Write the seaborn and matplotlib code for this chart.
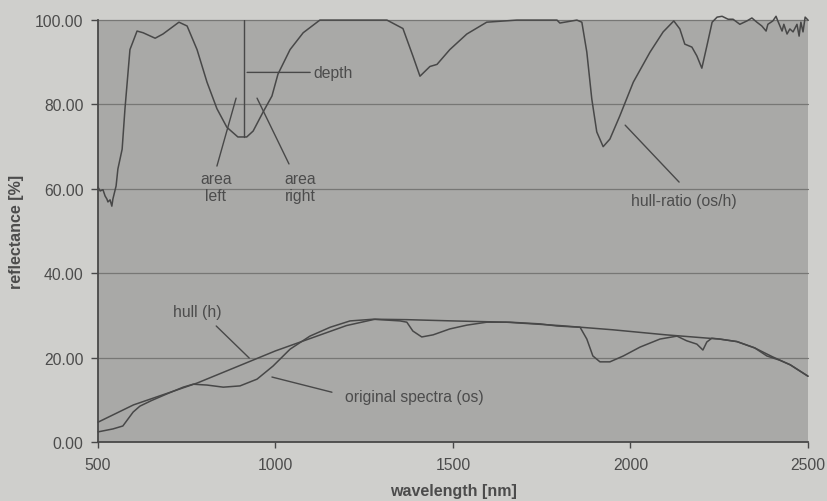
import pandas as pd
import matplotlib.pyplot as plt
import seaborn as sns

# wavelength [nm] / reflectance [%]
hull_wl = [500, 600, 780, 1000, 1200, 1280, 1370, 1500, 1650, 1800, 1950, 2100,
           2250, 2300, 2350, 2400, 2450, 2500]
hull_val = [4.7, 8.8, 14.0, 21.6, 27.6, 29.1, 29.0, 28.7, 28.4, 27.6, 26.6, 25.4,
            24.4, 23.8, 22.3, 20.2, 18.3, 15.6]

os_wl = [500, 542, 570, 599, 618, 650, 694, 740, 768, 807, 853, 900, 948, 993,
         1041, 1097, 1154, 1210, 1275, 1351, 1370, 1387, 1412, 1444, 1491, 1539,
         1595, 1660, 1745, 1793, 1858, 1877, 1894, 1914, 1942, 1980, 2027, 2083,
         2131, 2158, 2187, 2204, 2215, 2229, 2252, 2300, 2350, 2384, 2420, 2450, 2500]
os_val = [2.4, 3.1, 3.8, 7.1, 8.5, 9.8, 11.4, 13.0, 13.7, 13.5, 13.0, 13.3, 14.9, 18.0,
          22.0, 25.1, 27.2, 28.7, 29.1, 28.7, 28.4, 26.3, 24.9, 25.4, 26.8, 27.7,
          28.4, 28.4, 28.0, 27.5, 27.2, 24.4, 20.4, 19.0, 19.0, 20.4, 22.5, 24.4,
          25.1, 24.0, 23.2, 21.8, 23.7, 24.6, 24.4, 23.8, 22.3, 20.4, 19.4, 18.3, 15.6]

ratio_wl = [500, 506, 514, 520, 525, 528, 534, 539, 542, 551, 556, 568, 576, 590,
            610, 627, 661, 683, 728, 751, 779, 807, 835, 863, 894, 919, 937, 965,
            990, 1007, 1041, 1078, 1125, 1314, 1359, 1387, 1407, 1435, 1455, 1491,
            1539, 1595, 1680, 1793, 1801, 1849, 1863, 1877, 1891, 1905, 1923, 1942,
            1970, 2008, 2055, 2092, 2122, 2139, 2153, 2173, 2187, 2201, 2215, 2230,
            2244, 2258, 2275, 2289, 2308, 2328, 2342, 2356, 2370, 2382, 2387, 2401,
            2410, 2415, 2427, 2432, 2441, 2449, 2458, 2469, 2475, 2480, 2486, 2492, 2500]
ratio_val = [60.4, 59.5, 59.8, 58.3, 57.6, 56.9, 57.4, 55.9, 57.6, 60.7, 64.7, 69.4,
             79.0, 93.0, 97.4, 97.0, 95.7, 96.7, 99.5, 98.6, 93.0, 85.3, 79.0, 74.6,
             72.3, 72.3, 73.7, 78.2, 82.0, 87.2, 93.0, 97.0, 100.0, 100.0, 98.0, 91.5,
             86.7, 89.0, 89.5, 93.0, 96.7, 99.5, 100.0, 100.0, 99.3, 100.0, 99.5, 92.4,
             81.3, 73.5, 70.0, 71.8, 77.3, 85.3, 92.4, 97.2, 99.8, 97.9, 94.3, 93.6,
             91.5, 88.6, 93.8, 99.5, 100.7, 100.9, 100.2, 100.2, 99.0, 99.8, 100.5,
             99.5, 98.6, 97.4, 99.0, 99.8, 100.9, 99.8, 97.4, 99.0, 96.7, 97.9, 97.2,
             99.0, 96.2, 99.5, 97.2, 100.7, 100.0]

depth_wl = 912
depth_min = 72.3

line_c = "#484848"
text_c = "#4c4c4c"

sns.set_style("white", {"axes.facecolor": "#a9a9a7", "figure.facecolor": "#cfcfcc"})
plt.rcParams["font.family"] = ["Liberation Sans", "DejaVu Sans"]

fig = plt.figure(figsize=(8.27, 5.02), dpi=100)
ax = fig.add_axes([0.1185, 0.1175, 0.8585, 0.8405])

for yv in [20, 40, 60, 80, 100]:
    ax.axhline(yv, color="#777775", lw=0.9, zorder=1)

sns.lineplot(x=hull_wl, y=hull_val, ax=ax, color=line_c, lw=1.1, zorder=3)
sns.lineplot(x=os_wl, y=os_val, ax=ax, color=line_c, lw=1.1, zorder=3)
sns.lineplot(x=ratio_wl, y=ratio_val, ax=ax, color=line_c, lw=1.1, zorder=3)
for l in ax.lines:
    l.set_clip_on(False)

ax.plot([depth_wl, depth_wl], [depth_min, 100], color=line_c, lw=1.0)

arrow = dict(arrowstyle="-", color=line_c, lw=1.0, shrinkA=0, shrinkB=0)
fs = 11.3
ax.annotate("depth", xy=(920, 87.6), xytext=(1107, 87.6), color=text_c, fontsize=fs,
            va="center", ha="left", arrowprops=arrow)
ax.plot([835, 889], [65.4, 81.5], color=line_c, lw=1.0)
ax.text(832, 60.4, "area\nleft", color=text_c, fontsize=fs, ha="center", va="center",
        linespacing=1.15)
ax.plot([1038, 948], [65.9, 81.5], color=line_c, lw=1.0)
ax.text(1070, 60.4, "area\nright", color=text_c, fontsize=fs, ha="center", va="center",
        linespacing=1.15)
ax.plot([1985, 2137], [75.1, 61.6], color=line_c, lw=1.0)
ax.text(2150, 57.3, "hull-ratio (os/h)", color=text_c, fontsize=fs, ha="center", va="center")
ax.plot([833, 926], [27.5, 19.9], color=line_c, lw=1.0)
ax.text(780, 31.0, "hull (h)", color=text_c, fontsize=fs, ha="center", va="center")
ax.plot([990, 1159], [15.4, 11.8], color=line_c, lw=1.0)
ax.text(1195, 10.9, "original spectra (os)", color=text_c, fontsize=fs, ha="left", va="center")

ax.set_xlim(500, 2500)
ax.set_ylim(0, 100)
ax.set_xticks([500, 1000, 1500, 2000, 2500])
ax.set_yticks([0, 20, 40, 60, 80, 100])
ax.set_yticklabels([f"{v:.2f}" for v in [0, 20, 40, 60, 80, 100]])
ax.tick_params(axis="both", direction="out", length=5, width=1, color=line_c,
               labelcolor=text_c, labelsize=11.3, left=True, bottom=True)
ax.tick_params(axis="x", pad=6.5, length=4)
ax.tick_params(axis="y", pad=5.5)

for s in ["top", "right"]:
    ax.spines[s].set_visible(False)
for s in ["left", "bottom"]:
    ax.spines[s].set_color(line_c)
    ax.spines[s].set_linewidth(1.3)

ax.set_xlabel("wavelength [nm]", fontsize=11.5, fontweight="bold", color=text_c, labelpad=8)
ax.set_ylabel("reflectance [%]", fontsize=11.5, fontweight="bold", color=text_c, labelpad=8)

fig.savefig("out.png", dpi=100)
